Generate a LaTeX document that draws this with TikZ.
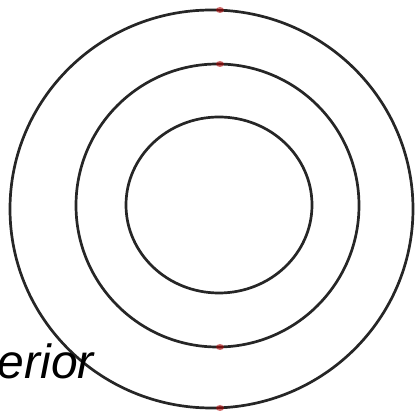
\documentclass[tikz,border=0pt]{standalone}
\usepackage{fontspec}
\setmainfont{Liberation Sans}
\begin{document}
\begin{tikzpicture}[x=1pt,y=-1pt,
  ring/.style={draw=black!85,line width=2.7pt},
  redmark/.style={fill=red!70!black,opacity=0.55}]
\useasboundingbox (0,0) rectangle (415,411);
\clip (0,0) rectangle (415,411);
\draw[ring] (211.5,209) ellipse [x radius=201.5, y radius=199];
\draw[ring] (217.5,205.5) ellipse [x radius=141.5, y radius=141.5];
\draw[ring] (219,205) ellipse [x radius=93, y radius=88];
\foreach \yy in {10,64,347,408} \fill[redmark] (220,\yy) ellipse [x radius=4, y radius=3];
\node[anchor=base east,inner sep=0pt,font=\fontsize{48}{52}\selectfont\itshape] (lbl) at (94,379) {erior};
\end{tikzpicture}
\end{document}
